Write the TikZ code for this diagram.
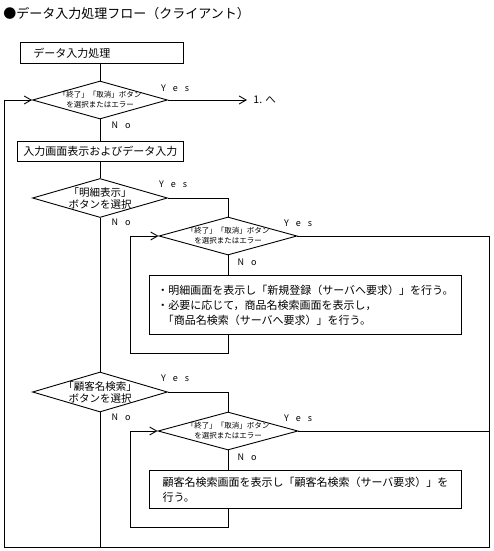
\documentclass[tikz,border=0pt]{standalone}
\usepackage{fontspec}
\setmainfont{Noto Sans CJK JP}
\usepackage{tikz}
\usetikzlibrary{arrows.meta,positioning,shapes.geometric,calc}

\begin{document}
\begin{tikzpicture}
	% Styles
	[
	x=1pt,y=-1pt,line width=0.9pt,
	proc/.style={rectangle,draw,anchor=north west,inner sep=0pt,font=\fontsize{11}{15}\selectfont,align=left},
	cond/.style={diamond,draw,aspect=3.5,inner sep=-4pt,minimum width=135pt,minimum height=38pt,font=\fontsize{7.5}{10}\selectfont,align=center},
	choice/.style={cond,minimum height=39pt,font=\fontsize{10.5}{12}\selectfont},
	yn/.style={inner sep=0pt,font=\fontsize{9}{9}\selectfont},
	arr/.style={-{Straight Barb[length=7pt,width=8pt]}},
	]

	\useasboundingbox (0,0) rectangle (493,551);

	% Title
	\node at (3,14)	(title)	[anchor=west,inner sep=0pt,font=\fontsize{13}{13}\selectfont] {●データ入力処理フロー（クライアント）};

	% Nodes
	\node at (20,42)	(start)	[proc,minimum width=163pt,minimum height=21pt,text width=137pt,inner xsep=13pt] {データ入力処理};
	\node at (100,100)	(quit)	[cond] {「終了」「取消」ボタン\\を選択またはエラー};
	\node at (17,141)	(input)	[proc,minimum width=166pt,minimum height=20pt,align=center] {入力画面表示およびデータ入力};
	\node at (100,198)	(detail)	[choice] {「明細表示」\\ボタンを選択};
	\node at (228,236)	(quitA)	[cond,minimum width=138pt] {「終了」「取消」ボタン\\を選択またはエラー};
	\node at (149,275)	(detailbox)	[proc,minimum width=312pt,minimum height=59pt] {・明細画面を表示し「新規登録（サーバへ要求）」を行う。\\・必要に応じて，商品名検索画面を表示し，\\\hspace*{5.5pt}「商品名検索（サーバへ要求）」を行う。};
	\node at (100,392)	(customer)	[choice,minimum height=40pt] {「顧客名検索」\\ボタンを選択};
	\node at (228,431)	(quitB)	[cond,minimum width=140pt] {「終了」「取消」ボタン\\を選択またはエラー};
	\node at (149,470)	(custbox)	[proc,minimum width=312pt,minimum height=38pt] {顧客名検索画面を表示し「顧客名検索（サーバ要求）」を\\行う。};
	\node at (253,100)	(next)	[anchor=west,inner sep=0pt,font=\fontsize{10.5}{10.5}\selectfont] {1. へ};

	% Yes / No
	\node at (175,88)	(yes1)	[yn] {Y\hspace{7pt}e\hspace{7pt}s};
	\node at (173,184)	(yes2)	[yn] {Y\hspace{7pt}e\hspace{7pt}s};
	\node at (298,223)	(yes3)	[yn] {Y\hspace{7pt}e\hspace{7pt}s};
	\node at (175,378)	(yes4)	[yn] {Y\hspace{7pt}e\hspace{7pt}s};
	\node at (298,418)	(yes5)	[yn] {Y\hspace{7pt}e\hspace{7pt}s};
	\node at (121,125)	(no1)	[yn] {N\hspace{7pt}o};
	\node at (121,222)	(no2)	[yn] {N\hspace{7pt}o};
	\node at (247,262)	(no3)	[yn] {N\hspace{7pt}o};
	\node at (121,417)	(no4)	[yn] {N\hspace{7pt}o};
	\node at (247,457)	(no5)	[yn] {N\hspace{7pt}o};

	% Corners
	\coordinate (exit)	at (247,100);
	\coordinate (loopA)	at (130,353);
	\coordinate (loopB)	at (130,527);
	\coordinate (cornerL)	at (4,547);
	\coordinate (cornerR)	at (489,547);

	% Connections
	\draw (start.south -| quit.north) -- (quit.north);
	\draw[arr] (quit.east) -- (exit);
	\draw (quit.south) -- (quit.south |- input.north);
	\draw (input.south -| detail.north) -- (detail.north);
	\draw (detail.east) -| (quitA.north);
	\draw (detail.south) -- (customer.north);
	\draw (quitA.south) -- (quitA.south |- detailbox.north);
	\draw[arr] (quitA.south |- detailbox.south) |- (loopA) |- (quitA.west);
	\draw[arr] (quitA.east) -| (cornerR) -- (cornerL) |- (quit.west);
	\draw (customer.east) -| (quitB.north);
	\draw (customer.south) -- (customer.south |- cornerL);
	\draw (quitB.south) -- (quitB.south |- custbox.north);
	\draw[arr] (quitB.south |- custbox.south) |- (loopB) |- (quitB.west);
	\draw (quitB.east) -- (quitB.east -| cornerR);

\end{tikzpicture}
\end{document}
